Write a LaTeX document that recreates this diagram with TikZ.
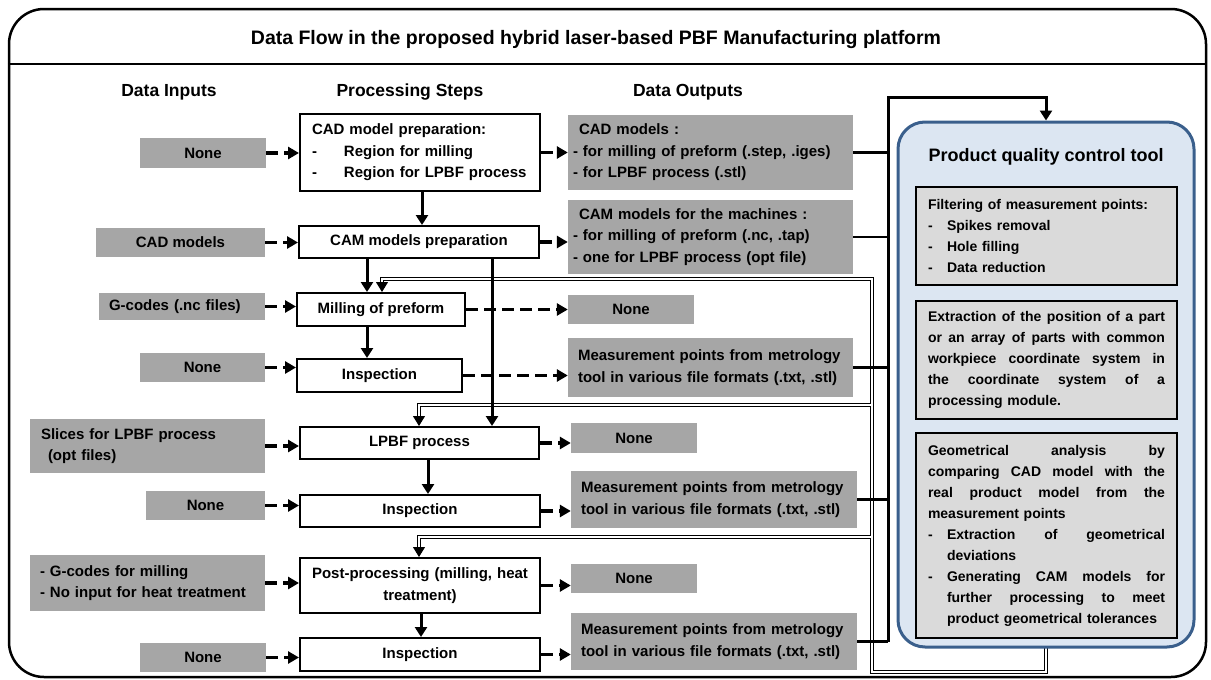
\documentclass[tikz,border=0pt]{standalone}
\usepackage{fontspec}
\setmainfont{Liberation Sans}
\usetikzlibrary{arrows.meta,calc}
\definecolor{boxgray}{HTML}{A6A6A6}
\definecolor{innergray}{HTML}{DADADA}
\definecolor{panelfill}{HTML}{DCE6F2}
\definecolor{paneldraw}{HTML}{3A5F8C}
\newcommand{\bxf}{\fontsize{15}{21.5}\selectfont\bfseries}
\newcommand{\pnf}{\fontsize{14}{21}\selectfont\bfseries}
\newcommand{\jline}[2]{\makebox[#1][s]{\spaceskip=.28em plus 1fil\relax #2}}
\begin{document}
\begin{tikzpicture}[x=1pt,y=-1pt,
 gbox/.style={fill=boxgray, inner sep=0pt, font=\bxf},
 pbox/.style={draw=black, line width=2pt, fill=white, inner sep=0pt, font=\bxf},
 ibox/.style={draw=black, line width=2pt, fill=innergray, inner sep=0pt, font=\pnf, minimum width=261pt, text width=237pt, align=left},
 dasharrow/.style={line width=3.2pt, dash pattern=on 12pt off 6pt, -{Triangle[length=11pt,width=12pt]}},
 solidarrow/.style={line width=3pt, -{Triangle[length=10pt,width=12pt]}},
 busline/.style={line width=2.5pt},
 hdr/.style={font=\fontsize{17.5}{20}\selectfont\bfseries, anchor=base},
 dblarrow/.style={line width=1pt, -{Triangle[length=10pt,width=12pt]}},
]
\useasboundingbox (0,0) rectangle (1211,680);
% frame
\node[draw, line width=2.5pt, rounded corners=35pt, minimum width=1197pt, minimum height=668pt, inner sep=0pt] (frame) at (607.5,343) {};
\draw[line width=2.5pt] (frame.west |- 0,64) -- (frame.east |- 0,64);
\node[font=\fontsize{19.5}{22}\selectfont\bfseries, anchor=base] (title) at (596,45) {Data Flow in the proposed hybrid laser-based PBF Manufacturing platform};
\node[hdr] (h1) at (169,96) {Data Inputs};
\node[hdr] (h2) at (410,96) {Processing Steps};
\node[hdr] (h3) at (688,96) {Data Outputs};

% inputs
\node[gbox, minimum width=126pt, minimum height=30pt] (I1) at (203,153) {None};
\node[gbox, minimum width=169pt, minimum height=29pt] (I2) at (180.5,242.5) {CAD models};
\node[gbox, minimum width=166pt, minimum height=27pt, text width=146pt, align=left] (I3) at (182,306.5) {G-codes (.nc files)};
\node[gbox, minimum width=125pt, minimum height=29pt] (I4) at (202.5,367.5) {None};
\node[gbox, minimum width=235pt, minimum height=54pt, text width=213pt, align=left] (I5) at (147.5,446) {Slices for LPBF process\\\hspace*{7pt}(opt files)};
\node[gbox, minimum width=119pt, minimum height=29pt] (I6) at (205.5,505.5) {None};
\node[gbox, minimum width=235pt, minimum height=56pt, text width=215pt, align=left] (I7) at (147.5,583) {- G-codes for milling\\- No input for heat treatment};
\node[gbox, minimum width=126pt, minimum height=29pt] (I8) at (203,657.5) {None};

% processing steps
\node[pbox, minimum width=240pt, minimum height=77pt, text width=216pt, align=left] (P1) at (420,152.5) {CAD model preparation:\\\makebox[32pt][l]{-}Region for milling\\\makebox[32pt][l]{-}Region for LPBF process};
\node[pbox, minimum width=240pt, minimum height=32pt] (P2) at (419,242) {CAM models preparation};
\node[pbox, minimum width=168pt, minimum height=33pt] (P3) at (381,309.5) {Milling of preform};
\node[pbox, minimum width=165pt, minimum height=33pt] (P4) at (379.5,375.5) {Inspection};
\node[pbox, minimum width=239pt, minimum height=32pt] (P5) at (419.5,443) {LPBF process};
\node[pbox, minimum width=240pt, minimum height=32pt] (P6) at (420,511) {Inspection};
\node[pbox, minimum width=240pt, minimum height=55pt, text width=226pt, align=center] (P7) at (420,585.5) {Post-processing (milling, heat\\treatment)};
\node[pbox, minimum width=240pt, minimum height=33pt] (P8) at (420,654.5) {Inspection};

% outputs
\node[gbox, minimum width=285pt, minimum height=75pt, text width=275pt, align=left] (O1) at (710.5,152.5) {\hspace*{6pt}CAD models :\\- for milling of preform (.step, .iges)\\- for LPBF process (.stl)};
\node[gbox, minimum width=285pt, minimum height=74pt, text width=275pt, align=left] (O2) at (710.5,237) {\hspace*{6pt}CAM models for the machines :\\- for milling of preform (.nc, .tap)\\- one for LPBF process (opt file)};
\node[gbox, minimum width=126pt, minimum height=29pt] (O3) at (631,309.5) {None};
\node[gbox, minimum width=285pt, minimum height=59pt, text width=265pt, align=left] (O4) at (710.5,367.5) {Measurement points from metrology\\tool in various file formats (.txt, .stl)};
\node[gbox, minimum width=126pt, minimum height=30pt] (O5) at (634,438) {None};
\node[gbox, minimum width=286pt, minimum height=57pt, text width=266pt, align=left] (O6) at (714,499.5) {Measurement points from metrology\\tool in various file formats (.txt, .stl)};
\node[gbox, minimum width=126pt, minimum height=29pt] (O7) at (634,578.5) {None};
\node[gbox, minimum width=286pt, minimum height=57pt, text width=266pt, align=left] (O8) at (714,641.5) {Measurement points from metrology\\tool in various file formats (.txt, .stl)};

% feedback double lines
\coordinate (fbx) at (872,0);
\coordinate (mx) at (382,0);
\coordinate (lx) at (419,0);
\coordinate (pbot) at (1046,647);
\foreach \w/\c in {4.4pt/black, 2pt/white} {
 \draw[line width=\w, draw=\c, line join=miter] (pbot) -- (pbot |- 0,672) -- (fbx |- 0,672) -- (fbx |- 0,279) -- (mx |- 0,279) -- ($(P3.north -| mx)+(0,-9)$);
 \draw[line width=\w, draw=\c, line join=miter] (fbx |- 0,405) -- (lx |- 0,405) -- ($(P5.north -| lx)+(0,-9)$);
 \draw[line width=\w, draw=\c, line join=miter] (fbx |- 0,537) -- (lx |- 0,537) -- ($(P7.north -| lx)+(0,-9)$);
}
\draw[dblarrow] ($(P3.north -| mx)+(0,-10)$) -- (P3.north -| mx);
\draw[dblarrow] ($(P5.north -| lx)+(0,-10)$) -- (P5.north -| lx);
\draw[dblarrow] ($(P7.north -| lx)+(0,-10)$) -- (P7.north -| lx);

% panel
\node[draw=paneldraw, line width=3pt, fill=panelfill, rounded corners=27pt, minimum width=296pt, minimum height=525pt, inner sep=0pt] (panel) at (1046,384.5) {};
\node[font=\fontsize{18}{22}\selectfont\bfseries] (ptitle) at (1046,157) {Product quality control tool};
\node[ibox, minimum height=98pt] (Q1) at (1046.5,236) {Filtering of measurement points:\\\makebox[19pt][l]{-}Spikes removal\\\makebox[19pt][l]{-}Hole filling\\\makebox[19pt][l]{-}Data reduction};
\node[ibox, minimum height=118pt] (Q2) at (1046.5,360) {\jline{237pt}{Extraction of the position of a part}\\\jline{237pt}{or an array of parts with common}\\\jline{237pt}{workpiece coordinate system in}\\\jline{237pt}{the coordinate system of a}\\processing module.};
\node[ibox, minimum height=205pt] (Q3) at (1046.5,535.5) {\jline{237pt}{Geometrical analysis by}\\\jline{237pt}{comparing CAD model with the}\\\jline{237pt}{real product model from the}\\measurement points\\\makebox[19pt][l]{-}\jline{218pt}{Extraction of geometrical}\\\hspace*{19pt}deviations\\\makebox[19pt][l]{-}\jline{218pt}{Generating CAM models for}\\\hspace*{19pt}\jline{218pt}{further processing to meet}\\\hspace*{19pt}product geometrical tolerances};

% input and output arrows
\foreach \i in {1,...,8} {
 \draw[dasharrow] (I\i.east) -- (I\i.east -| P\i.west);
 \draw[dasharrow] (P\i.east) -- (P\i.east -| O\i.west);
}

% solid process arrows
\draw[solidarrow] (P1.south -| 422,0) -- (P2.north -| 422,0);
\draw[solidarrow] (P2.south -| 367,0) -- (P3.north -| 367,0);
\draw[solidarrow] (P2.south -| 492,0) -- (P5.north -| 492,0);
\draw[solidarrow] (P3.south -| 367,0) -- (P4.north -| 367,0);
\draw[solidarrow] (P5.south -| 428,0) -- (P6.north -| 428,0);
\draw[solidarrow] (P7.south -| 421,0) -- (P8.north -| 421,0);

% bus to panel
\coordinate (bustop) at (888,97);
\foreach \o in {O1,O2,O4,O6,O8} {
 \draw[busline] (\o.east) -- (\o.east -| bustop);
}
\draw[line width=3pt, line join=miter, -{Triangle[length=10pt,width=12pt]}] (O8.east -| bustop) -- (bustop) -- (bustop -| panel.north) -- (panel.north);
\end{tikzpicture}
\end{document}
